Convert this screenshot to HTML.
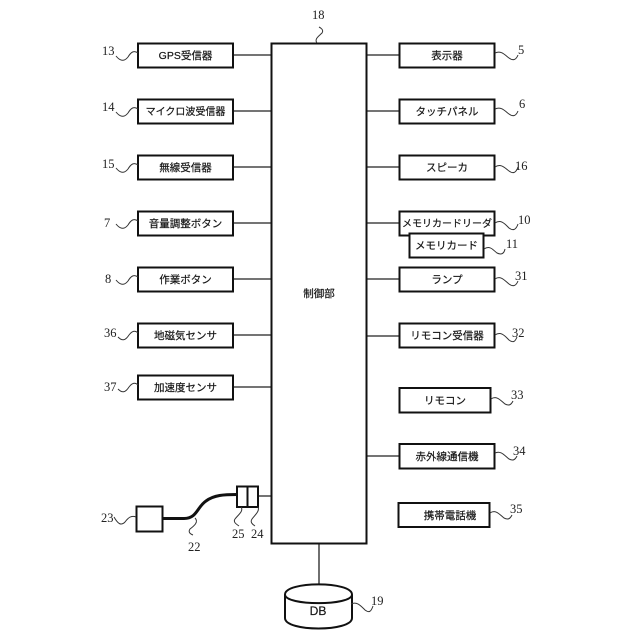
<!DOCTYPE html>
<html><head><meta charset="utf-8"><style>
html,body{margin:0;padding:0;background:#fff}
svg{display:block}
.b{fill:#fff;stroke:#111;stroke-width:2}
.l{stroke:#222;stroke-width:1.3;fill:none}
.w{stroke:#333;stroke-width:1;fill:none}
.t{font-family:"Liberation Sans","Noto Sans CJK JP",sans-serif;font-size:10.5px;text-anchor:middle;fill:#111;stroke:#222;stroke-width:.2}
.n{font-family:"Liberation Serif",serif;font-size:12.5px;fill:#222}
</style></head><body>
<svg width="640" height="640" viewBox="0 0 640 640" xmlns="http://www.w3.org/2000/svg">
<rect width="640" height="640" fill="#fff"/>
<g class="l">
<path d="M233 55H271M233 111H271M233 167H271M233 223H271M233 279H271M233 335H271M233 387H271"/>
<path d="M366 55H399M366 111H399M366 167H399M366 223H399M366 279H399M366 336H399M366 456H399"/>
<path d="M258 496H271M319 543V585"/>
</g>
<rect class="b" x="271.500" y="43.500" width="95" height="500"/>
<g class="b">
<rect x="138" y="43.500" width="95" height="24"/><rect x="138" y="99.500" width="95" height="24"/><rect x="138" y="155.500" width="95" height="24"/><rect x="138" y="211.500" width="95" height="24"/><rect x="138" y="267.500" width="95" height="24"/><rect x="138" y="323.500" width="95" height="24"/><rect x="138" y="375.500" width="95" height="24"/>
<rect x="399.500" y="43.500" width="95" height="24"/><rect x="399.500" y="99.500" width="95" height="24"/><rect x="399.500" y="155.500" width="95" height="24"/><rect x="399.500" y="211.500" width="95" height="24"/>
<rect x="409.500" y="233.500" width="74" height="24"/>
<rect x="399.500" y="267.500" width="95" height="24"/><rect x="399.500" y="323.500" width="95" height="24"/><rect x="399.500" y="388" width="91" height="24.500"/><rect x="399.500" y="444" width="95" height="24.500"/><rect x="398.500" y="503" width="91" height="24"/>
<rect x="136.500" y="506.500" width="26" height="25"/>
<rect x="237" y="486.500" width="10.500" height="20.500"/><rect x="247.500" y="486.500" width="10.500" height="20.500"/>
</g>
<path d="M163 518.500H184C197 518.500 197 507 206 501C214 495 224 494.500 237 494.500" fill="none" stroke="#111" stroke-width="3"/>
<path d="M285 594.500C285 581 352 581 352 594.500V618C352 632 285 632 285 618Z" class="b"/>
<path d="M285 594.500C285 606 352 606 352 594.500" class="b" fill="none"/>
<g class="t">
<text x="185.500" y="59">GPS受信器</text>
<text x="185.500" y="115" font-size="10">マイクロ波受信器</text>
<text x="185.500" y="171">無線受信器</text>
<text x="185.500" y="227">音量調整ボタン</text>
<text x="185.500" y="283">作業ボタン</text>
<text x="185.500" y="339">地磁気センサ</text>
<text x="185.500" y="391">加速度センサ</text>
<text x="447" y="59">表示器</text>
<text x="447" y="115">タッチパネル</text>
<text x="447" y="171">スピーカ</text>
<text x="447" y="227" font-size="10">メモリカードリーダ</text>
<text x="446.500" y="249">メモリカード</text>
<text x="447" y="283">ランプ</text>
<text x="447" y="339">リモコン受信器</text>
<text x="445" y="404">リモコン</text>
<text x="447" y="460">赤外線通信機</text>
<text x="450" y="519">携帯電話機</text>
<text x="319" y="297">制御部</text>
<text x="318" y="615" font-size="12">DB</text>
</g>
<g class="w">
<path d="M116 56C120 61 124 62 128 57C131 52 134 50 138 53"/>
<path d="M116 112C120 117 124 118 128 113C131 108 134 106 138 109"/>
<path d="M116 168C120 173 124 174 128 169C131 164 134 162 138 165"/>
<path d="M116 224C120 229 124 230 128 225C131 220 134 218 138 221"/>
<path d="M116 280C120 285 124 286 128 281C131 276 134 274 138 277"/>
<path d="M118 337C122 341 125 341 129 335C132 331 135 330 138 333"/>
<path d="M118 389C122 393 125 393 129 387C132 383 135 382 138 385"/>
<path d="M495 53C501 50 505 55 509 58C513 61 516 60 518 55"/>
<path d="M495 109C501 106 505 111 509 114C513 117 516 116 518 111"/>
<path d="M495 167C501 163 505 168 509 171C513 174 516 173 518 167"/>
<path d="M495 223C501 219 505 224 509 228C513 231 516 230 518 224"/>
<path d="M484 249C490 245 493 250 497 253C501 255 504 254 505 249"/>
<path d="M495 279C501 275 505 281 509 284C513 287 516 286 518 281"/>
<path d="M495 335C501 331 505 336 509 340C513 343 515 342 517 337"/>
<path d="M491 399C497 395 501 401 505 404C509 406 511 405 513 401"/>
<path d="M495 453C501 450 505 456 509 459C513 461 515 460 517 456"/>
<path d="M490 513C496 509 500 515 504 518C508 520 510 519 512 515"/>
<path d="M351 604C357 601 361 606 365 610C369 613 371 612 373 606"/>
<path d="M114 517C118 524 121 526 125 522C128 518 131 515 136 517"/>
<path d="M195 518C199 522 194 526 190 529C188 532 190 534 193 535"/>
<path d="M241 507C244 511 238 515 235 519C233 522 236 524 239 526"/>
<path d="M258 507C260 511 255 515 252 519C250 522 252 524 255 526"/>
<path d="M317 43C314 39 319 36 322 33C324 30 321 28 319 27"/>
</g>
<g class="n">
<text x="102" y="55">13</text><text x="102" y="111">14</text><text x="102" y="168">15</text>
<text x="104" y="227">7</text><text x="105" y="283">8</text><text x="104" y="337">36</text><text x="104" y="391">37</text>
<text x="518" y="54">5</text><text x="519" y="108">6</text><text x="515" y="170">16</text><text x="518" y="224">10</text><text x="506" y="248">11</text>
<text x="515" y="280">31</text><text x="512" y="337">32</text><text x="511" y="399">33</text><text x="513" y="455">34</text><text x="510" y="513">35</text>
<text x="312" y="19">18</text><text x="371" y="605">19</text><text x="101" y="522">23</text><text x="188" y="551">22</text><text x="232" y="538">25</text><text x="251" y="538">24</text>
</g>
</svg>
</body></html>
